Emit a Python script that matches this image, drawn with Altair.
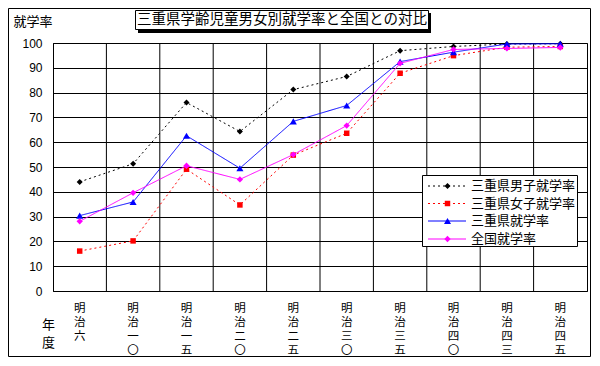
import altair as alt
import pandas as pd

categories = ["明治六", "明治一〇", "明治一五", "明治二〇", "明治二五",
              "明治三〇", "明治三五", "明治四〇", "明治四三", "明治四五"]
male = [44.0, 51.3, 76.0, 64.3, 81.2, 86.5, 96.9, 98.6, 99.6, 99.7]
female = [16.1, 20.2, 49.1, 34.7, 54.8, 63.6, 87.8, 94.9, 98.3, 98.6]
mie = [30.4, 35.9, 62.6, 49.5, 68.4, 74.8, 92.5, 96.3, 99.6, 99.7]
national = [28.1, 39.6, 50.5, 45.0, 55.0, 66.7, 91.8, 97.4, 97.8, 98.2]

series_names = ["三重県男子就学率", "三重県女子就学率", "三重県就学率", "全国就学率"]
series_values = [male, female, mie, national]
series_colors = ["#000000", "#ff0000", "#0000ff", "#ff00ff"]
series_dash = [[2, 3], [2, 3], [1, 0], [1, 0]]
series_shape = ["diamond", "square", "triangle-up", "diamond"]
series_size = [36, 30, 50, 40]

title_text = "三重県学齢児童男女別就学率と全国との対比"
y_title = "就学率"
x_title = ["年", "度"]

W, H = 534, 248
JP = "Noto Sans CJK JP"

xscale = alt.Scale(type="band", domain=categories, paddingInner=0, paddingOuter=0)
yscale = alt.Scale(domain=[0, 100], nice=False)

x_axis = alt.Axis(grid=False, ticks=False, domain=False, labelAngle=0,
                  labelExpr="split(datum.label, '')", labelBaseline="top",
                  labelLineHeight=14, labelFontSize=11.5, labelFont=JP,
                  labelPadding=11, labelColor="black",
                  title=x_title, titleAngle=0, titleX=-5, titleY=27,
                  titleAlign="center", titleBaseline="top", titleLineHeight=18,
                  titleFontSize=13, titleFontWeight="normal", titleFont=JP,
                  titleColor="black")
y_axis = alt.Axis(values=list(range(0, 101, 10)), grid=True, gridColor="black",
                  gridOpacity=1, gridWidth=1, ticks=False, tickSize=0,
                  domain=True, domainColor="black", labelPadding=11,
                  labelFontSize=12, labelFont="Liberation Sans", labelColor="black",
                  title=y_title, titleAngle=0, titleX=-40, titleY=-22,
                  titleAlign="left", titleBaseline="middle", titleFontSize=13,
                  titleFontWeight="normal", titleFont=JP, titleColor="black")

one = pd.DataFrame({"k": [0]})

# outer frame (outline only)
frame = alt.Chart(one).mark_rect(filled=False, stroke="black", strokeWidth=1).encode(
    x=alt.value(-44.5), x2=alt.value(537.5), y=alt.value(-34.5), y2=alt.value(313.5))

# vertical grid lines at category boundaries
grid_df = pd.DataFrame({"cat": categories[1:]})
vgrid = alt.Chart(grid_df).mark_rule(color="black", strokeWidth=1).encode(
    x=alt.X("cat:N", scale=xscale, bandPosition=0, axis=x_axis))

layers = [frame, vgrid]

for name, vals, col, dash, shp, sz in zip(series_names, series_values, series_colors,
                                          series_dash, series_shape, series_size):
    df = pd.DataFrame({"cat": categories, "value": vals})
    enc = dict(x=alt.X("cat:N", scale=xscale, bandPosition=0.5, axis=x_axis),
               y=alt.Y("value:Q", scale=yscale, axis=y_axis))
    ln = alt.Chart(df).mark_line(color=col, strokeWidth=1, strokeDash=dash).encode(**enc)
    pt = alt.Chart(df).mark_point(shape=shp, filled=True, color=col, size=sz,
                                  opacity=1).encode(**enc)
    layers += [ln, pt]

# title box
shadow = alt.Chart(one).mark_rect(fill="black").encode(
    x=alt.value(85), x2=alt.value(378), y=alt.value(-30), y2=alt.value(-10))
tbox = alt.Chart(one).mark_rect(fill="white", stroke="black", strokeWidth=1).encode(
    x=alt.value(82.5), x2=alt.value(375.5), y=alt.value(-32.5), y2=alt.value(-13.5))
ttext = alt.Chart(pd.DataFrame({"t": [title_text]})).mark_text(
    font=JP, fontSize=14.5, color="black", align="center", baseline="middle").encode(
    x=alt.value(229), y=alt.value(-23), text="t:N")
layers += [shadow, tbox, ttext]

# legend
lbox = alt.Chart(one).mark_rect(fill="white", stroke="black", strokeWidth=1).encode(
    x=alt.value(369.5), x2=alt.value(524.5), y=alt.value(132.5), y2=alt.value(203.5))
layers.append(lbox)
row_y = [143, 160.5, 178, 196]
for name, col, dash, shp, sz, yy in zip(series_names, series_colors, series_dash,
                                        series_shape, series_size, row_y):
    ndf = pd.DataFrame({"n": [name]})
    layers.append(alt.Chart(ndf).mark_rule(color=col, strokeWidth=1, strokeDash=dash).encode(
        x=alt.value(375), x2=alt.value(413), y=alt.value(yy)))
    layers.append(alt.Chart(ndf).mark_point(shape=shp, filled=True, color=col, size=sz,
                                            opacity=1).encode(
        x=alt.value(394.5), y=alt.value(yy)))
    layers.append(alt.Chart(ndf).mark_text(font=JP, fontSize=13, color="black",
                                           align="left", baseline="middle").encode(
        x=alt.value(418), y=alt.value(yy), text="n:N"))

chart = alt.layer(*layers).properties(
    width=W, height=H,
    autosize=alt.AutoSizeParams(type="none"),
    padding={"left": 45, "top": 35, "right": 5, "bottom": 67},
    background="white",
).configure_view(stroke="black", strokeWidth=1)

chart.save("out.html", embed_options={"renderer": "svg", "actions": False})
